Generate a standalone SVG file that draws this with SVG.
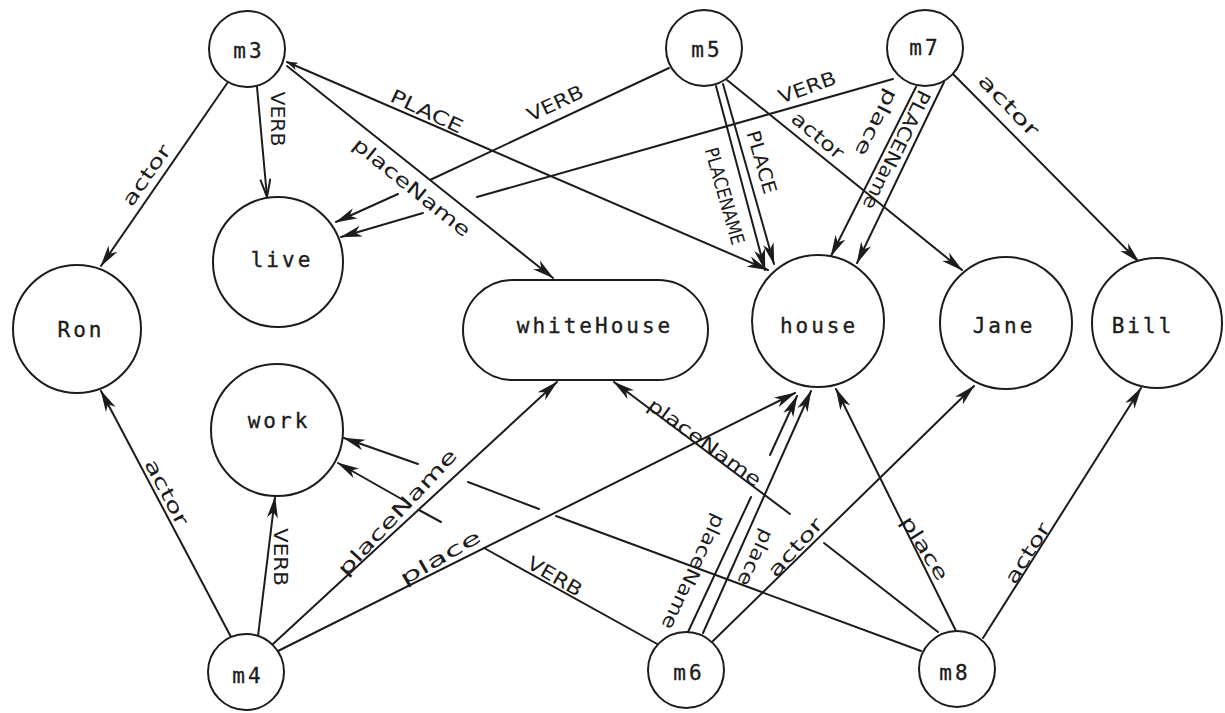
<svg xmlns="http://www.w3.org/2000/svg" width="1225" height="713" viewBox="0 0 1225 713">
  <style>
    .node { fill: #fff; stroke: #1c1c1c; stroke-width: 2; }
    .nlabel { font-family: "DejaVu Sans Mono", "Liberation Mono", monospace; font-size: 21px; letter-spacing: 3px; fill: #1c1c1c; stroke: #1c1c1c; stroke-width: 0.35px; text-anchor: middle; }
    .edge { fill: none; stroke: #1c1c1c; stroke-width: 2; stroke-linecap: round; }
    .arr { marker-end: url(#head); }
    .elabel { font-family: "DejaVu Sans", "Liberation Sans", sans-serif; font-size: 19px; fill: #1c1c1c; text-anchor: middle; dominant-baseline: central; }
  </style>
  <defs>
    <marker id="head" viewBox="0 0 22 12" refX="21" refY="6" markerWidth="22" markerHeight="12" markerUnits="userSpaceOnUse" orient="auto">
      <path d="M0,0.5 L22,6 L0,11.5 L6,6 Z" fill="#1c1c1c"/>
    </marker>
    <marker id="openhead" viewBox="0 0 20 12" refX="19" refY="6" markerWidth="20" markerHeight="12" markerUnits="userSpaceOnUse" orient="auto">
      <path d="M1,1 L19,6 L1,11" fill="none" stroke="#1c1c1c" stroke-width="2"/>
    </marker>
    <marker id="tail" viewBox="0 0 12 8" refX="1" refY="4" markerWidth="12" markerHeight="8" markerUnits="userSpaceOnUse" orient="auto">
      <path d="M0,4 L12,0 L9,4 L12,8 Z" fill="#1c1c1c"/>
    </marker>
  </defs>
  <rect width="1225" height="713" fill="#fff"/>

  <!-- arcs between nodes; some are broken where they pass under labels -->
  <g id="connectors">
    <!-- m3 -->
    <line class="edge arr" x1="228" y1="82" x2="101" y2="266"/>
    <line class="edge" x1="257" y1="87" x2="267" y2="197" marker-end="url(#openhead)"/>
    <line class="edge arr" x1="287" y1="66" x2="553" y2="278"/>
    <line class="edge arr" x1="287" y1="62" x2="768" y2="270" marker-start="url(#tail)"/>
    <!-- m5 -->
    <line class="edge" x1="669" y1="68" x2="430" y2="180"/>
    <line class="edge arr" x1="398" y1="194" x2="336" y2="222"/>
    <line class="edge arr" x1="716" y1="86" x2="765" y2="270"/>
    <line class="edge arr" x1="723" y1="84" x2="774" y2="264"/>
    <line class="edge arr" x1="727" y1="80" x2="962" y2="270"/>
    <!-- m7 -->
    <line class="edge" x1="893" y1="79" x2="477" y2="197"/>
    <line class="edge arr" x1="423" y1="213" x2="341" y2="237"/>
    <line class="edge arr" x1="916" y1="87" x2="831" y2="256"/>
    <line class="edge arr" x1="944" y1="82" x2="857" y2="263"/>
    <line class="edge arr" x1="953" y1="74" x2="1139" y2="262"/>
    <!-- m4 -->
    <line class="edge arr" x1="231" y1="637" x2="101" y2="391"/>
    <line class="edge arr" x1="258" y1="636" x2="275" y2="497"/>
    <line class="edge arr" x1="273" y1="644" x2="557" y2="382"/>
    <line class="edge arr" x1="276" y1="652" x2="795" y2="393"/>
    <!-- m6 -->
    <line class="edge" x1="659" y1="645" x2="484" y2="548"/>
    <line class="edge" x1="441" y1="522" x2="419" y2="510"/>
    <line class="edge arr" x1="405" y1="501" x2="338" y2="463"/>
    <line class="edge" x1="688" y1="632" x2="751" y2="497"/>
    <line class="edge arr" x1="770" y1="455" x2="797" y2="396"/>
    <line class="edge arr" x1="703" y1="633" x2="811" y2="391"/>
    <line class="edge arr" x1="713" y1="641" x2="974" y2="386"/>
    <!-- m8 -->
    <line class="edge" x1="921" y1="651" x2="556" y2="516"/>
    <line class="edge" x1="539" y1="509" x2="468" y2="482"/>
    <line class="edge arr" x1="418" y1="464" x2="344" y2="438"/>
    <line class="edge" x1="938" y1="632" x2="824" y2="543"/>
    <line class="edge arr" x1="790" y1="514" x2="614" y2="382"/>
    <line class="edge arr" x1="956" y1="631" x2="836" y2="389"/>
    <line class="edge arr" x1="983" y1="638" x2="1141" y2="388"/>
  </g>

  <g id="arc-labels">
    <text class="elabel" textLength="70" lengthAdjust="spacingAndGlyphs" transform="translate(146,175) rotate(-55)">actor</text>
    <text class="elabel" textLength="55" lengthAdjust="spacingAndGlyphs" transform="translate(278,119) rotate(90)">VERB</text>
    <text class="elabel" textLength="145" lengthAdjust="spacingAndGlyphs" transform="translate(412,187) rotate(39)">placeName</text>
    <text class="elabel" textLength="78" lengthAdjust="spacingAndGlyphs" transform="translate(427,111) rotate(25)">PLACE</text>
    <text class="elabel" textLength="60" lengthAdjust="spacingAndGlyphs" transform="translate(555,103) rotate(-25)">VERB</text>
    <text class="elabel" textLength="60" lengthAdjust="spacingAndGlyphs" transform="translate(807,87) rotate(-20)">VERB</text>
    <text class="elabel" textLength="65" lengthAdjust="spacingAndGlyphs" transform="translate(762,162) rotate(74)">PLACE</text>
    <text class="elabel" textLength="100" lengthAdjust="spacingAndGlyphs" transform="translate(725,196) rotate(74)">PLACENAME</text>
    <text class="elabel" textLength="62" lengthAdjust="spacingAndGlyphs" transform="translate(818,135) rotate(40)">actor</text>
    <text class="elabel" textLength="72" lengthAdjust="spacingAndGlyphs" transform="translate(877,123) rotate(117)">place</text>
    <text class="elabel" textLength="130" lengthAdjust="spacingAndGlyphs" transform="translate(897,150) rotate(116)">PLACEName</text>
    <text class="elabel" textLength="78" lengthAdjust="spacingAndGlyphs" transform="translate(1009,105) rotate(46)">actor</text>
    <text class="elabel" textLength="72" lengthAdjust="spacingAndGlyphs" transform="translate(167,492) rotate(62)">actor</text>
    <text class="elabel" textLength="58" lengthAdjust="spacingAndGlyphs" transform="translate(281,557) rotate(90)">VERB</text>
    <text class="elabel" textLength="165" lengthAdjust="spacingAndGlyphs" transform="translate(397,512) rotate(-47)">placeName</text>
    <text class="elabel" textLength="90" lengthAdjust="spacingAndGlyphs" transform="translate(440,557) rotate(-30)">place</text>
    <text class="elabel" textLength="60" lengthAdjust="spacingAndGlyphs" transform="translate(555,576) rotate(30)">VERB</text>
    <text class="elabel" textLength="125" lengthAdjust="spacingAndGlyphs" transform="translate(694,572) rotate(115)">placeName</text>
    <text class="elabel" textLength="60" lengthAdjust="spacingAndGlyphs" transform="translate(756,558) rotate(115)">place</text>
    <text class="elabel" textLength="72" lengthAdjust="spacingAndGlyphs" transform="translate(795,547) rotate(-48)">actor</text>
    <text class="elabel" textLength="135" lengthAdjust="spacingAndGlyphs" transform="translate(705,442) rotate(36)">placeName</text>
    <text class="elabel" textLength="72" lengthAdjust="spacingAndGlyphs" transform="translate(925,548) rotate(58)">place</text>
    <text class="elabel" textLength="68" lengthAdjust="spacingAndGlyphs" transform="translate(1027,553) rotate(-58)">actor</text>
  </g>

  <g id="m3"><circle class="node" cx="247" cy="49" r="38"/><text class="nlabel" x="249" y="58">m3</text></g>
  <g id="m5"><circle class="node" cx="704" cy="48" r="38"/><text class="nlabel" x="707" y="57">m5</text></g>
  <g id="m7"><circle class="node" cx="925" cy="48" r="38"/><text class="nlabel" x="925" y="55">m7</text></g>
  <g id="live"><circle class="node" cx="278" cy="262" r="65"/><text class="nlabel" x="282" y="267">live</text></g>
  <g id="Ron"><circle class="node" cx="77" cy="329" r="64"/><text class="nlabel" x="81" y="337">Ron</text></g>
  <g id="whiteHouse"><rect class="node" x="463" y="280" width="245" height="100" rx="50" ry="50"/><text class="nlabel" x="595" y="333">whiteHouse</text></g>
  <g id="house"><circle class="node" cx="818" cy="321" r="66"/><text class="nlabel" x="819" y="333">house</text></g>
  <g id="Jane"><circle class="node" cx="1006" cy="323" r="66"/><text class="nlabel" x="1004" y="333">Jane</text></g>
  <g id="Bill"><circle class="node" cx="1157" cy="323" r="65"/><text class="nlabel" x="1143" y="333">Bill</text></g>
  <g id="work"><circle class="node" cx="277" cy="430" r="66"/><text class="nlabel" x="279" y="428">work</text></g>
  <g id="m4"><circle class="node" cx="246" cy="672" r="38"/><text class="nlabel" x="248" y="683">m4</text></g>
  <g id="m6"><circle class="node" cx="686" cy="670" r="38"/><text class="nlabel" x="689" y="680">m6</text></g>
  <g id="m8"><circle class="node" cx="957" cy="669" r="38"/><text class="nlabel" x="955" y="680">m8</text></g>
</svg>
